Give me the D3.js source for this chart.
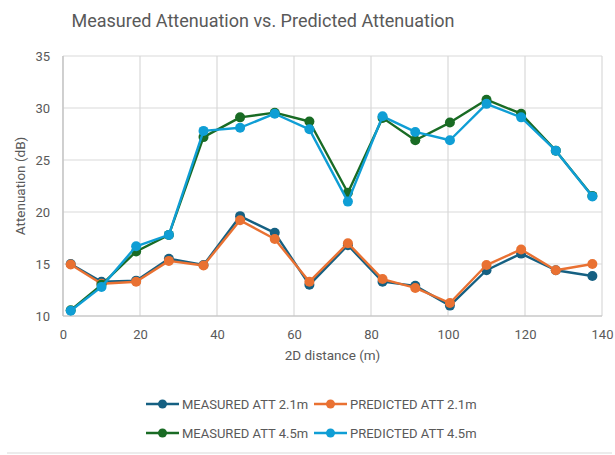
<!DOCTYPE html>
<html>
<head>
<meta charset="utf-8">
<script src="https://cdn.jsdelivr.net/npm/d3@7"></script>
<style>
  html, body { margin: 0; padding: 0; background: #fff; }
  svg { display: block; font-family: Roboto, "Open Sans", sans-serif; }
</style>
</head>
<body>
<svg id="chart" width="615" height="455"></svg>
<script>
const distances = [2, 10, 19, 27.5, 36.5, 46, 55, 64, 74, 83, 91.5, 100.5, 110, 119, 128, 137.5];
const measured21 = [15.0, 13.3, 13.4, 15.5, 14.9, 19.6, 18.0, 13.0, 16.8, 13.3, 12.9, 11.0, 14.4, 16.0, 14.4, 13.85];
const predicted21 = [14.95, 13.1, 13.3, 15.3, 14.85, 19.2, 17.4, 13.3, 17.0, 13.55, 12.7, 11.25, 14.9, 16.4, 14.4, 15.0];
const measured45 = [10.55, 13.0, 16.2, 17.8, 27.2, 29.1, 29.55, 28.7, 21.85, 29.05, 26.9, 28.6, 30.8, 29.45, 25.9, 21.55];
const predicted45 = [10.5, 12.8, 16.7, 17.8, 27.8, 28.1, 29.45, 27.95, 21.0, 29.2, 27.7, 26.9, 30.4, 29.1, 25.9, 21.5];
const seriesNames = ["MEASURED ATT 2.1m", "PREDICTED ATT 2.1m", "MEASURED ATT 4.5m", "PREDICTED ATT 4.5m"];
const seriesColors = ["#156082", "#E97132", "#196B24", "#0F9ED5"];
const xTicks = [0, 20, 40, 60, 80, 100, 120, 140];
const yTicks = [10, 15, 20, 25, 30, 35];
const titleText = "Measured Attenuation vs. Predicted Attenuation";
const xLabel = "2D distance (m)";
const yLabel = "Attenuation (dB)";

const series = [measured21, predicted21, measured45, predicted45].map((vals, i) => ({
  name: seriesNames[i], color: seriesColors[i],
  points: vals.map((v, j) => ({x: distances[j], y: v}))
}));

const svg = d3.select("#chart");
const margin = {left: 63, right: 13, top: 56, bottom: 139};
const W = 615, H = 455;
const x = d3.scaleLinear().domain([0, 140]).range([margin.left, W - margin.right]);
const y = d3.scaleLinear().domain([10, 35]).range([H - margin.bottom, margin.top]);

// title
svg.append("text").attr("x", 263).attr("y", 27).attr("text-anchor", "middle")
  .attr("font-size", 18).attr("fill", "#595959").text(titleText);

// grid
const g = svg.append("g");
g.selectAll(".hg").data(yTicks).join("line")
  .attr("x1", x(0)).attr("x2", x(140))
  .attr("y1", d => y(d)).attr("y2", d => y(d))
  .attr("stroke", "#d9d9d9").attr("stroke-width", 1.2);
g.selectAll(".vg").data(xTicks).join("line")
  .attr("y1", y(10)).attr("y2", y(35))
  .attr("x1", d => x(d)).attr("x2", d => x(d))
  .attr("stroke", "#d9d9d9").attr("stroke-width", 1.2);
// axis lines
g.append("line").attr("x1", x(0)).attr("x2", x(140)).attr("y1", y(10)).attr("y2", y(10))
  .attr("stroke", "#bfbfbf").attr("stroke-width", 1.2);
g.append("line").attr("x1", x(0)).attr("x2", x(0)).attr("y1", y(10)).attr("y2", y(35))
  .attr("stroke", "#bfbfbf").attr("stroke-width", 1.2);

// axes labels via d3 axes
const xAxis = svg.append("g").attr("transform", `translate(0,${y(10)})`)
  .call(d3.axisBottom(x).tickValues(xTicks).tickSize(0).tickPadding(14));
const yAxis = svg.append("g").attr("transform", `translate(${x(0)},0)`)
  .call(d3.axisLeft(y).tickValues(yTicks).tickSize(0).tickPadding(13));
[xAxis, yAxis].forEach(a => {
  a.select(".domain").remove();
  a.selectAll("text").attr("font-size", 13).attr("fill", "#595959")
    .attr("font-family", "Roboto, sans-serif");
});

// axis titles
svg.append("text").attr("x", (x(0) + x(140)) / 2).attr("y", 360).attr("text-anchor", "middle")
  .attr("font-size", 13.5).attr("fill", "#595959").text(xLabel);
svg.append("text").attr("transform", `translate(25,${(y(10) + y(35)) / 2}) rotate(-90)`)
  .attr("text-anchor", "middle").attr("font-size", 13.5).attr("fill", "#595959").text(yLabel);

// lines
const line = d3.line().x(d => x(d.x)).y(d => y(d.y));
const sg = svg.append("g");
series.forEach(s => {
  const gg = sg.append("g");
  gg.append("path").datum(s.points).attr("d", line)
    .attr("fill", "none").attr("stroke", s.color).attr("stroke-width", 2.4)
    .attr("stroke-linejoin", "round");
  gg.selectAll("circle").data(s.points).join("circle")
    .attr("cx", d => x(d.x)).attr("cy", d => y(d.y)).attr("r", 5)
    .attr("fill", s.color);
});

// legend
const legendPos = [[146, 404], [314, 404], [146, 433], [314, 433]];
series.forEach((s, i) => {
  const [lx, ly] = legendPos[i];
  const lg = svg.append("g").attr("transform", `translate(${lx},${ly})`);
  lg.append("line").attr("x1", 0).attr("x2", 33).attr("y1", 0).attr("y2", 0)
    .attr("stroke", s.color).attr("stroke-width", 2.4);
  lg.append("circle").attr("cx", 16.5).attr("cy", 0).attr("r", 4.5).attr("fill", s.color);
  lg.append("text").attr("x", 36).attr("y", 0).attr("dy", "0.35em")
    .attr("font-size", 13).attr("fill", "#595959").text(s.name);
});

// bottom separator line
svg.append("line").attr("x1", 7).attr("x2", 612).attr("y1", 453).attr("y2", 453)
  .attr("stroke", "#e6e6e6").attr("stroke-width", 1.5);
</script>
</body>
</html>
